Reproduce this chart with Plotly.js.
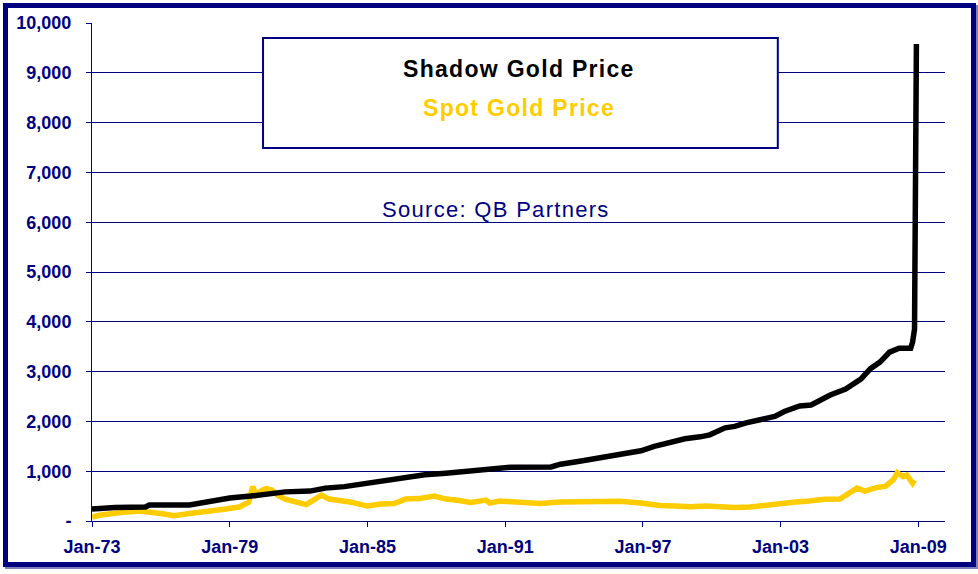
<!DOCTYPE html>
<html>
<head>
<meta charset="utf-8">
<script src="https://cdn.plot.ly/plotly-3.0.1.min.js"></script>
<style>
  body { margin: 0; background: #ffffff; }
  #wrap { position: relative; width: 978px; height: 574px; }
  #chart { position: absolute; left: 0; top: 0; width: 978px; height: 574px; }
  #frame {
    position: absolute; left: 3px; top: 3px; width: 963px; height: 554px;
    border: 5px solid #000080; box-shadow: 2px 2px 0 #8080b8; pointer-events: none;
  }
  .annotation-text { letter-spacing: 1.3px; }
</style>
</head>
<body>
<div id="wrap">
  <div id="chart"></div>
  <div id="frame"></div>
</div>
<script>
// Shadow gold price (black line)
const shadowDates = [
  "1973-01-01", "1974-01-01", "1975-05-01", "1975-07-01", "1977-04-01", "1977-09-01",
  "1978-05-01", "1979-01-01", "1979-12-01", "1980-10-01", "1981-06-01", "1982-07-01",
  "1983-03-01", "1984-01-01", "1984-12-01", "1985-10-01", "1986-09-01", "1987-07-01",
  "1988-06-01", "1989-04-01", "1989-12-01", "1990-08-01", "1991-04-01", "1993-01-01",
  "1993-06-01", "1994-04-01", "1995-03-01", "1996-01-01", "1996-12-01", "1997-07-01",
  "1998-06-01", "1998-11-01", "1999-07-01", "1999-12-01", "2000-08-01", "2001-01-01",
  "2001-07-01", "2002-02-01", "2002-05-01", "2002-10-01", "2003-03-01", "2003-11-01",
  "2004-05-01", "2004-10-01", "2005-03-01", "2005-11-01", "2006-07-01", "2006-12-01",
  "2007-05-01", "2007-10-01", "2008-03-01", "2008-09-01", "2008-10-01", "2008-11-01",
  "2008-12-01"
];
const shadowValues = [
  240, 270, 280, 320, 320, 360,
  400, 460, 500, 560, 585, 600,
  660, 690, 760, 820, 880, 930,
  960, 990, 1040, 1050, 1080, 1085,
  1140, 1200, 1270, 1360, 1410, 1500,
  1600, 1650, 1690, 1730, 1870, 1900,
  1970, 2030, 2030, 2100, 2200, 2310,
  2330, 2430, 2530, 2650, 2850, 3060,
  3190, 3390, 3470, 3470, 3590, 3850,
  9580
];

// Spot gold price (gold line)
const spotDates = [
  "1973-01-01", "1973-05-01", "1974-04-01", "1975-02-01", "1976-01-01", "1976-08-01",
  "1977-04-01", "1978-03-01", "1978-11-01", "1979-06-01", "1979-11-01", "1980-01-01",
  "1980-03-01", "1980-06-01", "1980-08-01", "1980-11-01", "1981-02-01", "1981-06-01",
  "1982-02-01", "1982-05-01", "1983-01-01", "1983-05-01", "1984-04-01", "1985-01-01",
  "1985-08-01", "1986-03-01", "1986-09-01", "1987-04-01", "1987-12-01", "1988-06-01",
  "1989-01-01", "1989-07-01", "1990-03-01", "1990-05-01", "1990-10-01", "1991-09-01",
  "1992-07-01", "1993-06-01", "1994-04-01", "1995-03-01", "1996-01-01", "1996-12-01",
  "1997-10-01", "1998-06-01", "1999-02-01", "1999-10-01", "2000-05-01", "2001-01-01",
  "2001-09-01", "2002-05-01", "2003-01-01", "2003-09-01", "2004-04-01", "2004-12-01",
  "2005-08-01", "2006-01-01", "2006-05-01", "2006-09-01", "2007-03-01", "2007-08-01",
  "2007-12-01", "2008-02-01", "2008-05-01", "2008-07-01", "2008-10-01", "2008-11-01"
];
const spotValues = [
  80, 115, 170, 200, 150, 105,
  150, 190, 240, 280, 380, 690,
  520, 620, 650, 620, 520, 440,
  360, 330, 520, 440, 380, 300,
  340, 350, 440, 450, 500, 440,
  410, 370, 420, 360, 400, 370,
  350, 380, 390, 390, 395, 360,
  310, 300, 285, 300, 285, 270,
  280, 320, 355, 380, 400, 435,
  440, 550, 660, 600, 670, 700,
  830, 970, 890, 920, 760, 820
];

const yTickVals = [0, 1000, 2000, 3000, 4000, 5000, 6000, 7000, 8000, 9000, 10000];
const yTickText = ["-", "1,000", "2,000", "3,000", "4,000", "5,000", "6,000", "7,000", "8,000", "9,000", "10,000"];
const xTickVals = ["1973-01-01", "1979-01-01", "1985-01-01", "1991-01-01", "1997-01-01", "2003-01-01", "2009-01-01"];
const xTickText = ["Jan-73", "Jan-79", "Jan-85", "Jan-91", "Jan-97", "Jan-03", "Jan-09"];

const navy = "#000080";
const gold = "#FFCC00";

const traces = [
  {
    x: spotDates, y: spotValues, type: "scatter", mode: "lines",
    line: { color: gold, width: 5.5 }, name: "Spot Gold Price"
  },
  {
    x: shadowDates, y: shadowValues, type: "scatter", mode: "lines",
    line: { color: "#000000", width: 5.5 }, name: "Shadow Gold Price"
  }
];

const layout = {
  width: 978, height: 574,
  margin: { l: 92, r: 33, t: 23, b: 53 },
  paper_bgcolor: "rgba(0,0,0,0)",
  plot_bgcolor: "#ffffff",
  showlegend: false,
  font: { family: "Arial, 'Liberation Sans', sans-serif", color: navy },
  xaxis: {
    type: "date",
    range: ["1973-01-01", "2010-03-01"],
    tickvals: xTickVals, ticktext: xTickText,
    showgrid: false, zeroline: false,
    showline: true, linecolor: navy, linewidth: 1,
    ticks: "outside", ticklen: 5, tickcolor: navy,
    ticklabelstandoff: 4,
    tickfont: { size: 18, color: navy, weight: "bold" }
  },
  yaxis: {
    range: [0, 10000],
    tickvals: yTickVals, ticktext: yTickText,
    showgrid: true, gridcolor: navy, gridwidth: 1,
    zeroline: false,
    showline: true, linecolor: navy, linewidth: 1,
    ticks: "outside", ticklen: 5, tickcolor: navy,
    ticklabelstandoff: 11,
    tickfont: { size: 18, color: navy, weight: "bold" }
  },
  shapes: [
    {
      type: "rect", xref: "paper", yref: "paper",
      x0: 0.2005, x1: 0.804, y0: 0.749, y1: 0.970,
      line: { color: navy, width: 2 }, fillcolor: "#ffffff", layer: "above"
    }
  ],
  annotations: [
    {
      xref: "paper", yref: "paper", x: 0.5, y: 0.9076, showarrow: false,
      xanchor: "center", yanchor: "middle",
      text: "<b>Shadow Gold Price</b>",
      font: { size: 23, color: "#000000" }
    },
    {
      xref: "paper", yref: "paper", x: 0.5, y: 0.829, showarrow: false,
      xanchor: "center", yanchor: "middle",
      text: "<b>Spot Gold Price</b>",
      font: { size: 23, color: gold }
    },
    {
      xref: "paper", yref: "paper", x: 0.474, y: 0.6245, showarrow: false,
      xanchor: "center", yanchor: "middle",
      text: "Source: QB Partners",
      font: { size: 22, color: navy }
    }
  ]
};

Plotly.newPlot("chart", traces, layout, { displayModeBar: false, staticPlot: true });
</script>
</body>
</html>
